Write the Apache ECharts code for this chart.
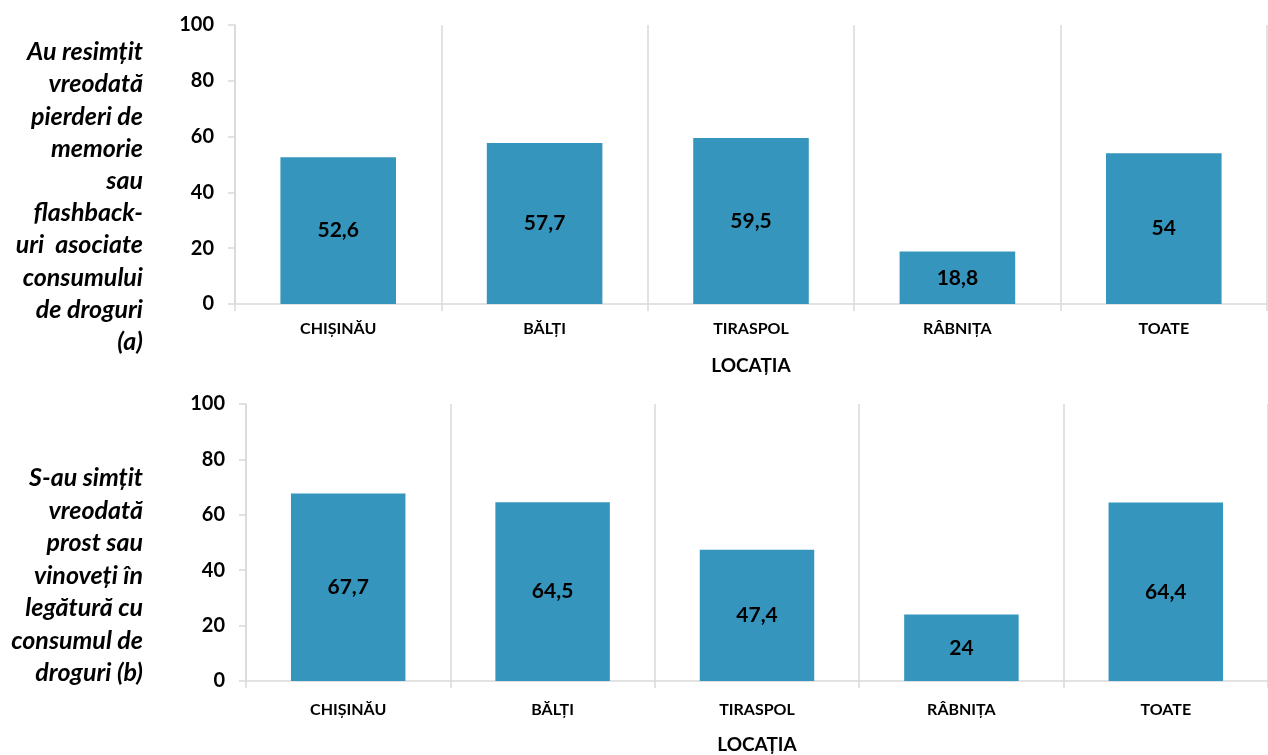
<!DOCTYPE html>
<html>
<head>
<meta charset="utf-8">
<script src="https://cdn.jsdelivr.net/npm/echarts@6/dist/echarts.min.js"></script>
<style>
html,body{margin:0;padding:0;background:#fff;}
#chart{width:1268px;height:755px;}
</style>
</head>
<body>
<div id="chart"></div>
<script>
const categories = ['CHIȘINĂU', 'BĂLȚI', 'TIRASPOL', 'RÂBNIȚA', 'TOATE'];
const valuesA = [52.6, 57.7, 59.5, 18.8, 54];
const valuesB = [67.7, 64.5, 47.4, 24, 64.4];
const yTicks = [0, 20, 40, 60, 80, 100];
const axisName = 'LOCAȚIA';
const titleA = ['Au resimțit', 'vreodată', 'pierderi de', 'memorie', 'sau', 'flashback-', 'uri  asociate', 'consumului', 'de droguri', '(a)'];
const titleB = ['S-au simțit', 'vreodată', 'prost sau', 'vinoveți în', 'legătură cu', 'consumul de', 'droguri (b)'];

const FONT = 'Lato, "Open Sans", sans-serif';
const GRID_COLOR = '#d9d9d9';
const BAR_COLOR = '#3695BD';

function xAxis(gridIndex, margin, nameGap) {
  return {
    type: 'category',
    gridIndex: gridIndex,
    data: categories,
    boundaryGap: true,
    name: axisName,
    nameLocation: 'middle',
    nameGap: nameGap,
    nameTextStyle: {fontFamily: FONT, fontWeight: 'bold', fontSize: 19, color: '#000'},
    axisLine: {show: true, lineStyle: {color: GRID_COLOR, width: 1.5}},
    axisTick: {show: true, length: 7, inside: false, alignWithLabel: false, lineStyle: {color: GRID_COLOR, width: 1.5}},
    splitLine: {show: true, lineStyle: {color: GRID_COLOR, width: 1.5}},
    axisLabel: {fontFamily: FONT, fontWeight: 'bold', fontSize: 16, color: '#000', margin: margin, interval: 0}
  };
}
function yAxis(gridIndex) {
  return {
    type: 'value',
    gridIndex: gridIndex,
    min: yTicks[0],
    max: yTicks[yTicks.length - 1],
    interval: yTicks[1] - yTicks[0],
    axisLine: {show: true, lineStyle: {color: GRID_COLOR, width: 1.5}},
    axisTick: {show: true, length: 7, lineStyle: {color: GRID_COLOR, width: 1.5}},
    splitLine: {show: false},
    axisLabel: {fontFamily: FONT, fontWeight: 'bold', fontSize: 20, color: '#000', margin: 21}
  };
}
function barSeries(idx, data) {
  return {
    type: 'bar',
    xAxisIndex: idx,
    yAxisIndex: idx,
    data: data,
    barCategoryGap: '44%',
    itemStyle: {color: BAR_COLOR},
    label: {
      show: true,
      position: 'inside',
      fontFamily: FONT,
      fontWeight: 'bold',
      fontSize: 21,
      color: '#000',
      formatter: function (p) { return String(p.value).replace('.', ','); }
    },
    silent: true
  };
}

const chart = echarts.init(document.getElementById('chart'), null, {renderer: 'canvas'});
chart.setOption({
  animation: false,
  backgroundColor: '#fff',
  grid: [
    {left: 235, top: 25, width: 1032, height: 279},
    {left: 246, top: 404, width: 1034, height: 277}
  ],
  xAxis: [xAxis(0, 17, 52), xAxis(1, 21, 54)],
  yAxis: [yAxis(0), yAxis(1)],
  series: [barSeries(0, valuesA), barSeries(1, valuesB)],
  graphic: [
    {
      type: 'text',
      x: 143, y: 36,
      style: {
        text: titleA.join('\n'),
        align: 'right', verticalAlign: 'top',
        fontFamily: FONT, fontWeight: 'bold', fontStyle: 'italic', fontSize: 25,
        lineHeight: 32.2, fill: '#000'
      }
    },
    {
      type: 'text',
      x: 143, y: 462,
      style: {
        text: titleB.join('\n'),
        align: 'right', verticalAlign: 'top',
        fontFamily: FONT, fontWeight: 'bold', fontStyle: 'italic', fontSize: 25,
        lineHeight: 32.5, fill: '#000'
      }
    }
  ]
});
</script>
</body>
</html>
